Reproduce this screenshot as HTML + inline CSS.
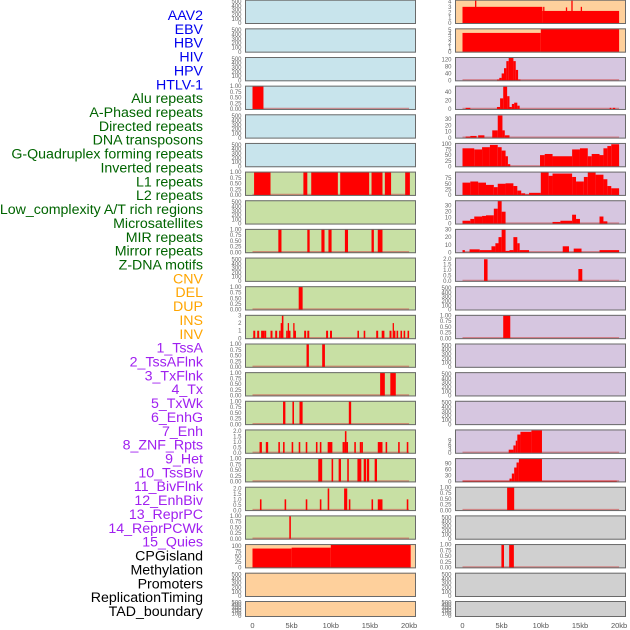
<!DOCTYPE html>
<html><head><meta charset="utf-8"><style>
html,body{margin:0;padding:0;background:#fff;width:630px;height:630px;overflow:hidden}
svg{display:block}
</style></head><body>
<svg id="chart" width="630" height="630" xmlns="http://www.w3.org/2000/svg" font-family="Liberation Sans, sans-serif"></svg>
<script>
// ---------- data ----------
const labels = ["AAV2","EBV","HBV","HIV","HPV","HTLV-1","Alu repeats","A-Phased repeats","Directed repeats","DNA transposons","G-Quadruplex forming repeats","Inverted repeats","L1 repeats","L2 repeats","Low_complexity A/T rich regions","Microsatellites","MIR repeats","Mirror repeats","Z-DNA motifs","CNV","DEL","DUP","INS","INV","1_TssA","2_TssAFlnk","3_TxFlnk","4_Tx","5_TxWk","6_EnhG","7_Enh","8_ZNF_Rpts","9_Het","10_TssBiv","11_BivFlnk","12_EnhBiv","13_ReprPC","14_ReprPCWk","15_Quies","CPGisland","Methylation","Promoters","ReplicationTiming","TAD_boundary"];
const labelGroups = [6,13,5,15,5];
const groupColors = ["#0000ee","#006400","#ffa500","#a020f0","#000000"];
const xTicks = [0,5,10,15,20];
const xTickLabels = ["0","5kb","10kb","15kb","20kb"];

// segments: [startKb, endKb, value]
const aav2Segs = [[0,10.2,3],[1.6,1.75,4.3],[10.2,20,2.25],[10.3,10.45,3],[13.2,13.35,2.9],[13.9,14.05,4.3],[15.1,15.25,3]];
const ebvSegs = [[0,10,4.3],[10,20,5.2]];
const hivSegs = [[4.4,4.7,5],[4.7,5.0,15],[5.0,5.3,40],[5.3,5.6,70],[5.6,5.9,110],[5.9,6.5,130],[6.5,6.8,110],[6.8,7.1,60],[7.1,7.4,5]];
const aluLeftSegs = [[0,1.4,1]];
const aluRightSegs = [[0.4,1.0,3],[4.4,4.8,5],[4.8,5.2,25],[5.2,5.7,52],[5.7,6.0,30],[6.0,6.3,5],[6.3,6.6,12],[6.6,7.0,15],[7.0,7.3,8],[18.8,19.0,3],[19.2,19.5,3]];
const aPhasedSegs = [[0.4,1.0,2],[1.0,1.8,3],[2.0,2.8,4],[3.8,4.5,12],[4.5,5.1,36],[5.1,5.4,12],[5.4,6.0,4]];
const directedSegs = [[0,1.5,80],[1.5,2.5,75],[2.5,3.5,85],[3.5,4.5,95],[4.5,5.0,85],[5.0,5.5,70],[5.5,5.8,45],[5.8,6.1,10],[9.9,10.5,50],[10.5,11.5,55],[11.5,14,45],[14,15,75],[15,16,80],[16,16.5,45],[16.5,17.5,55],[17.5,18,50],[18,18.5,80],[18.5,19,90],[19,20,98]];
const l1LeftSegs = [[0.2,2.3,1],[6.5,7.0,1],[7.5,10.9,1],[11.2,14.9,1],[15.2,16.6,1],[16.9,17.7,1],[19.5,20.1,1]];
const l1RightSegs = [[0,1,55],[1,2,60],[2,3,55],[3,4,45],[4,4.5,35],[4.5,5.5,50],[5.5,6.5,52],[6.5,7,40],[7,7.5,20],[7.5,8,8],[8,8.5,3],[8.5,10,10],[10,11,100],[11,11.5,85],[11.5,14,95],[14,14.5,80],[14.5,15.5,60],[15.5,16,80],[16,17,100],[17,18,90],[18,18.5,70],[18.5,19,40],[19,20,30]];
const dnaTransSegs = [[0,1.0,5],[1.0,1.5,8],[1.5,2.5,12],[2.5,3.0,13],[3.0,4.0,14],[4.0,4.5,25],[4.5,5.0,38],[5.0,5.5,20],[11.5,12.5,3],[12.5,14.0,5],[14.0,14.5,15],[14.5,15.0,8],[17.5,18.0,12],[18.0,18.5,4]];
const mirLeftSegs = [[3.3,3.7,1],[7.0,7.3,1],[8.8,9.2,1],[9.7,10.1,1],[11.8,12.2,1],[15.2,15.5,1],[16.0,16.6,1]];
const mirRightSegs = [[0,0.3,3],[0.9,2.2,4],[2.2,3.7,3],[3.7,4.2,8],[4.2,4.6,12],[4.6,5.0,20],[5.0,5.5,30],[5.5,6.0,2],[6.0,6.5,3],[6.5,7.0,20],[7.0,7.3,12],[7.3,8.5,3],[12.8,13.6,8],[14.2,15.2,5],[17.5,20,3]];
const zdnaSegs = [[2.75,3.2,2],[14.8,15.3,1.1]];
const cnvSegs = [[5.9,6.4,1]];
const insSegs = [[0.1,0.35,1],[0.6,0.85,1],[1.1,1.5,1],[1.5,1.75,1],[2.3,2.55,1],[2.9,3.15,1],[3.4,3.6,1],[3.6,3.75,2],[3.75,3.95,3],[4.3,4.5,1],[4.5,4.65,2],[4.65,4.85,1],[5.2,5.35,2],[5.35,5.55,1],[6.6,6.85,1],[7.0,7.25,1],[9.4,9.65,1],[9.9,10.15,1],[13.4,13.6,1],[14.2,14.4,1],[15.8,16.05,1],[16.5,16.85,1],[17.5,17.75,1],[17.9,18.05,2],[18.05,18.25,1],[18.4,18.6,1],[18.9,19.1,1],[19.3,19.5,1],[19.8,20.0,1]];
const insRightSegs = [[5.2,6.1,1]];
const tssASegs = [[6.9,7.2,1],[8.9,9.25,1]];
const tssAFlnkSegs = [[16.3,16.9,1],[17.6,18.3,1]];
const txFlnkSegs = [[3.9,4.2,1],[5.1,5.3,1],[6.0,6.4,1],[12.3,12.6,1]];
const txSegs = [[0.9,1.2,1],[1.7,2.0,1],[3.3,3.5,1],[3.9,4.1,1],[5.0,5.2,1],[5.9,6.1,1],[6.8,7.0,1],[8.1,8.3,1],[8.6,8.8,1],[9.6,10.2,1],[11.5,11.8,1],[11.8,12.0,2],[12.0,12.2,1],[13.0,13.2,1],[13.7,13.9,1],[13.9,14.1,1],[16.0,16.6,1],[17.0,17.2,1],[18.6,18.8,1],[19.7,19.9,1]];
const txRightSegs = [[5.9,6.5,2.4],[6.5,6.8,5.5],[6.8,7.0,9],[7.0,7.4,13.5],[7.4,8.8,15.5],[8.8,10.15,16.5]];
const txWkSegs = [[8.4,8.9,1],[10.1,10.3,1],[11.0,11.3,1],[12.1,12.3,1],[13.4,13.9,1],[14.2,14.5,1],[14.6,14.9,1],[15.6,15.9,1]];
const txWkRightSegs = [[0,6.0,4],[6.0,6.3,15],[6.3,6.6,40],[6.6,6.9,70],[6.9,7.2,95],[7.2,10.15,114],[10.15,19.7,4]];
const enhGSegs = [[0.95,1.15,1],[4.1,4.3,1],[6.8,7.0,1],[8.6,8.8,1],[9.6,9.8,2],[11.7,12.1,2],[12.3,12.5,1],[15.2,15.4,1],[16.0,16.6,1],[19.7,19.9,1]];
const enhGRightSegs = [[5.7,6.6,1]];
const enhSegs = [[4.7,4.9,1]];
const cpgLeftSegs = [[0,5,88],[5,10,92],[10,20.2,106]];
const cpgRightSegs = [[4.97,5.3,1],[5.96,6.56,1]];

// ---------- layout ----------
const svg = document.getElementById('chart');
const NS = 'http://www.w3.org/2000/svg';
const colX = {L:245, R:455};
const panelW = 171;
const kb0 = {L:252.5, R:462.5};
const kbPx = 7.83;
const bgs = {blue:'#c8e4ec', green:'#c8e0a4', peach:'#fed09c', lav:'#d6c6e0', gray:'#d0d0d0'};
function rowTop(i){ return i===21 ? 601 : i*28.65 - 0.3; }
function rowH(i){ return i===21 ? 16 : 24.3; }
function xScale(side,kb){ return kb0[side] + kb*kbPx; }

function mk(tag, attrs, parent){
  const e = document.createElementNS(NS, tag);
  for (const k in attrs) e.setAttribute(k, attrs[k]);
  (parent||svg).appendChild(e);
  return e;
}

const T500 = {ymax:530, ticks:[0,100,200,300,400,500], fmt:v=>String(v)};
const T1 = {ymax:1.0, ticks:[0,0.25,0.5,0.75,1.0], fmt:v=>v.toFixed(2)};
const T2 = {ymax:2.1, ticks:[0,0.5,1.0,1.5,2.0], fmt:v=>v.toFixed(1)};

const panels = [
 ['L',0,'blue',T500,null,'aav2-left'],
 ['R',0,'peach',{ymax:4.2,ticks:[0,1,2,3,4],fmt:String},aav2Segs,'aav2-right'],
 ['L',1,'blue',T500,null,'ebv-left'],
 ['R',1,'peach',{ymax:5.2,ticks:[0,1,2,3,4,5],fmt:String},ebvSegs,'ebv-right'],
 ['L',2,'blue',T500,null,'hiv-left'],
 ['R',2,'lav',{ymax:130,ticks:[0,40,80,120],fmt:String},hivSegs,'hiv-right'],
 ['L',3,'blue',T1,aluLeftSegs,'alu-left'],
 ['R',3,'lav',{ymax:53,ticks:[0,20,40],fmt:String},aluRightSegs,'alu-right'],
 ['L',4,'blue',T500,null,'aphased-left'],
 ['R',4,'lav',{ymax:37,ticks:[0,10,20,30],fmt:String},aPhasedSegs,'aphased-right'],
 ['L',5,'blue',T500,null,'directed-left'],
 ['R',5,'lav',{ymax:101,ticks:[0,25,50,75,100],fmt:String},directedSegs,'directed-right'],
 ['L',6,'green',T1,l1LeftSegs,'l1-left'],
 ['R',6,'lav',{ymax:101,ticks:[0,25,50,75],fmt:String},l1RightSegs,'l1-right'],
 ['L',7,'green',T500,null,'dna-trans-left'],
 ['R',7,'lav',{ymax:38,ticks:[0,10,20,30],fmt:String},dnaTransSegs,'dna-trans-right'],
 ['L',8,'green',T1,mirLeftSegs,'mir-left'],
 ['R',8,'lav',{ymax:30,ticks:[0,10,20,30],fmt:String},mirRightSegs,'mir-right'],
 ['L',9,'green',T500,null,'zdna-left'],
 ['R',9,'lav',T2,zdnaSegs,'zdna-right'],
 ['L',10,'green',T1,cnvSegs,'cnv-left'],
 ['R',10,'lav',T500,null,'cnv-right'],
 ['L',11,'green',{ymax:3,ticks:[0,1,2,3],fmt:String},insSegs,'ins-left'],
 ['R',11,'lav',T1,insRightSegs,'ins-right'],
 ['L',12,'green',T1,tssASegs,'tssa-left'],
 ['R',12,'lav',T500,null,'tssa-right'],
 ['L',13,'green',T1,tssAFlnkSegs,'tssaflnk-left'],
 ['R',13,'lav',T500,null,'tssaflnk-right'],
 ['L',14,'green',T1,txFlnkSegs,'txflnk-left'],
 ['R',14,'lav',T500,null,'txflnk-right'],
 ['L',15,'green',T2,txSegs,'tx-left'],
 ['R',15,'lav',{ymax:16.8,ticks:[0,3,6,9],fmt:String},txRightSegs,'tx-right'],
 ['L',16,'green',T1,txWkSegs,'txwk-left'],
 ['R',16,'lav',{ymax:114,ticks:[0,30,60,90],fmt:String},txWkRightSegs,'txwk-right'],
 ['L',17,'green',T2,enhGSegs,'enhg-left'],
 ['R',17,'gray',T1,enhGRightSegs,'enhg-right'],
 ['L',18,'green',T1,enhSegs,'enh-left'],
 ['R',18,'gray',T500,null,'enh-right'],
 ['L',19,'peach',{ymax:106,ticks:[0,25,50,75,100],fmt:String},cpgLeftSegs,'cpg-left'],
 ['R',19,'gray',T1,cpgRightSegs,'cpg-right'],
 ['L',20,'peach',T500,null,'methylation-left'],
 ['R',20,'gray',T500,null,'methylation-right'],
 ['L',21,'peach',T500,null,'tad-left'],
 ['R',21,'gray',T500,null,'tad-right']
];

// labels
let li = 0;
labelGroups.forEach((n,g)=>{
  for (let k=0;k<n;k++){
    const t = mk('text',{x:203,y:(15+li*13.86+5).toFixed(1),'text-anchor':'end','font-size':'14.2',fill:groupColors[g]});
    
    
    t.textContent = labels[li];
    li++;
  }
});

panels.forEach(p=>{
  const [side,row,bg,ax,segs,name] = p;
  const x = colX[side], y = rowTop(row), h = rowH(row);
  const g = mk('g',{});
  
  
  mk('rect',{x:x,y:y,width:panelW,height:h,fill:bgs[bg]},g);
  const bottom = y + h - 0.8, top = y + 0.6;
  const ys = v => bottom - v/ax.ymax*(bottom-top);
  if (segs){
    mk('line',{x1:xScale(side,0),x2:xScale(side,20),y1:bottom-0.6,y2:bottom-0.6,stroke:'rgba(205,70,70,0.55)','stroke-width':1.5},g);
    segs.forEach(s=>{
      const x1 = xScale(side,s[0]), x2 = xScale(side,s[1]);
      const yv = Math.max(ys(s[2]), top);
      const r = mk('rect',{x:x1.toFixed(2),y:yv.toFixed(2),width:Math.max(x2-x1,1.3).toFixed(2),height:(bottom-yv).toFixed(2),fill:'#ff0000'},g);
      
      
    });
  }
  mk('rect',{x:x+0.5,y:y+0.5,width:panelW-1,height:h-1,fill:'none',stroke:'#6a6a6a','stroke-width':1},g);
  ax.ticks.forEach(tv=>{
    const t = mk('text',{x:x-3.5,y:(ys(tv)+2).toFixed(1),'text-anchor':'end','font-size':'6',fill:'#666'},g);
    
    
    t.textContent = ax.fmt(tv);
  });
});

['L','R'].forEach(side=>{
  xTicks.forEach((kb,i)=>{
    const t = mk('text',{x:xScale(side,kb).toFixed(1),y:628,'text-anchor':'middle','font-size':'7.5',fill:'#555'});
    
    
    t.textContent = xTickLabels[i];
  });
});
</script>
</body></html>
